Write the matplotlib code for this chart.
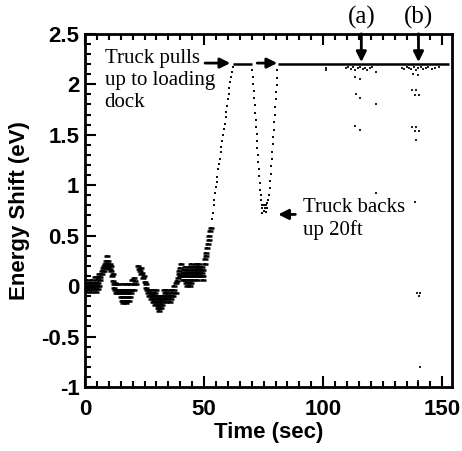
import matplotlib
matplotlib.use("Agg")
import matplotlib.pyplot as plt
from matplotlib.ticker import MultipleLocator

# noisy low-energy part before the truck moves (time s, energy eV)
early_t = [
    0.5, 1.0, 1.5, 2.0, 2.5, 3.0, 3.5, 4.0, 5.0, 6.0,
    0.5, 1.5, 2.5, 3.5, 4.5, 5.5,
    0.5, 1.0, 2.0, 3.0, 4.0, 5.5,
    1.0, 3.0, 5.0, 6.5,
    1.0, 2.5, 4.5,
    4.0, 5.5, 6.5,
    6.0, 7.0,
    7.2, 7.5, 7.8, 8.0, 8.3, 8.5, 8.8, 9.0, 9.2, 9.4, 9.6, 9.8, 10.0, 10.3, 10.5, 10.8, 11.0,
    11.3, 11.6, 11.8, 12.0, 12.3, 12.6,
    13.0, 14.0, 16.0, 17.5, 19.0, 20.5, 21.5,
    12.5, 13.5, 14.5, 15.5, 16.5, 17.5, 18.5, 19.5, 20.5,
    13.0, 14.0, 15.0, 16.0, 17.0, 18.0, 19.5,
    15.0, 16.0, 17.0, 18.0, 19.0,
    15.5, 16.5, 17.5, 18.5,
    16.0, 17.0,
    19.8, 20.5, 21.0,
    22.3, 22.6, 23.0, 23.3, 23.6, 24.0, 24.4, 24.8, 25.2, 25.5, 25.8,
    26.0, 27.0, 28.5, 30.0, 33.0, 34.5, 36.0, 37.5,
    26.5, 27.5, 28.5, 29.5, 33.5, 35.0, 36.5, 38.0,
    27.0, 28.0, 29.0, 30.0, 31.0, 32.0, 33.0, 34.0, 35.0, 36.0, 37.0,
    27.5, 28.5, 29.5, 30.5, 31.5, 32.5, 33.5, 34.5, 36.0,
    28.5, 29.5, 30.5, 31.5, 32.5, 34.0, 35.5,
    29.5, 30.5, 31.5, 32.5,
    30.5, 31.0, 32.0,
    31.0,
    37.5, 38.0, 38.5, 39.0, 39.3, 39.6, 40.0, 40.3, 40.0,
    40.5, 41.5, 42.5, 43.5, 44.5, 45.5, 46.5, 47.5, 48.5, 49.5,
    41.0, 42.0, 43.0, 44.0, 45.0, 46.0, 47.0, 48.0, 49.0,
    41.5, 43.0, 44.0, 45.5, 46.5, 47.5, 48.5, 49.5,
    42.0, 43.5, 45.0, 46.0, 47.0, 48.0, 49.0,
    44.5, 46.5, 48.0,
    41.0, 42.0, 43.0, 44.0, 45.5, 47.0, 49.5,
    42.5, 43.5, 44.5,
    43.0, 44.0,
    50.2, 50.5, 50.8, 51.0, 51.3, 51.6, 51.9, 52.2, 52.5, 52.8,
]
early_e = [
    0.00, 0.00, 0.00, 0.00, 0.00, 0.00, 0.00, 0.00, 0.00, 0.00,
    0.03, 0.03, 0.03, 0.03, 0.03, 0.03,
    -0.03, -0.03, -0.03, -0.03, -0.03, -0.03,
    0.06, 0.06, 0.06, 0.06,
    -0.06, -0.06, -0.06,
    0.09, 0.09, 0.09,
    0.12, 0.12,
    0.15, 0.18, 0.20, 0.15, 0.22, 0.18, 0.25, 0.20, 0.30, 0.22, 0.18, 0.25, 0.20, 0.22, 0.17, 0.20, 0.15,
    0.10, 0.05, 0.12, 0.02, -0.02, 0.03,
    0.02, 0.02, 0.02, 0.02, 0.02, 0.02, 0.02,
    -0.04, -0.04, -0.04, -0.04, -0.04, -0.04, -0.04, -0.04, -0.04,
    -0.07, -0.07, -0.07, -0.07, -0.07, -0.07, -0.07,
    -0.11, -0.11, -0.11, -0.11, -0.11,
    -0.15, -0.15, -0.15, -0.15,
    -0.17, -0.17,
    0.06, 0.08, 0.05,
    0.20, 0.17, 0.15, 0.18, 0.12, 0.13, 0.08, 0.10, 0.04, 0.02, -0.02,
    -0.04, -0.04, -0.04, -0.04, -0.04, -0.04, -0.04, -0.04,
    -0.07, -0.07, -0.07, -0.07, -0.07, -0.07, -0.07, -0.07,
    -0.10, -0.10, -0.10, -0.10, -0.10, -0.10, -0.10, -0.10, -0.10, -0.10, -0.10,
    -0.13, -0.13, -0.13, -0.13, -0.13, -0.13, -0.13, -0.13, -0.13,
    -0.16, -0.16, -0.16, -0.16, -0.16, -0.16, -0.16,
    -0.19, -0.19, -0.19, -0.19,
    -0.22, -0.22, -0.22,
    -0.25,
    0.00, 0.03, 0.05, 0.08, 0.12, 0.15, 0.18, 0.22, 0.10,
    0.10, 0.10, 0.10, 0.10, 0.10, 0.10, 0.10, 0.10, 0.10, 0.10,
    0.13, 0.13, 0.13, 0.13, 0.13, 0.13, 0.13, 0.13, 0.13,
    0.16, 0.16, 0.16, 0.16, 0.16, 0.16, 0.16, 0.16,
    0.19, 0.19, 0.19, 0.19, 0.19, 0.19, 0.19,
    0.22, 0.22, 0.22,
    0.06, 0.06, 0.06, 0.06, 0.06, 0.06, 0.06,
    0.03, 0.03, 0.03,
    0.00, 0.00,
    0.22, 0.27, 0.30, 0.33, 0.38, 0.42, 0.46, 0.50, 0.55, 0.58,
]

# truck pulling up, backing up 20 ft, pulling up again
ramp_t = [
    53.2, 53.6, 54.0, 54.3, 54.6, 55.0, 55.3, 55.6, 56.0, 56.3, 56.6, 57.0, 57.3, 57.6,
    58.0, 58.3, 58.6, 59.0, 59.3, 59.6, 60.0, 60.3, 60.6, 61.0, 61.3, 61.6, 62.0,
    70.2, 70.4, 70.6, 70.8, 71.0, 71.2, 71.4, 71.6, 71.8, 72.0, 72.2, 72.4, 72.6, 72.8,
    73.0, 73.2, 73.4, 73.6, 73.8,
    74.0, 74.5, 75.0, 75.5, 76.0, 76.5, 74.5, 75.5, 76.5, 75.0, 76.0, 74.2, 77.0, 77.3,
    77.6, 77.8, 78.0, 78.2, 78.4, 78.6, 78.8, 79.0, 79.2, 79.4, 79.6, 79.8, 80.0, 80.2,
    80.4, 80.6, 80.8,
]
ramp_e = [
    0.66, 0.72, 0.80, 0.85, 0.92, 0.98, 1.03, 1.08, 1.16, 1.21, 1.26, 1.33, 1.38, 1.44,
    1.50, 1.56, 1.61, 1.68, 1.73, 1.78, 1.85, 1.90, 1.96, 2.02, 2.07, 2.12, 2.17,
    2.14, 2.07, 2.00, 1.93, 1.86, 1.79, 1.72, 1.65, 1.58, 1.51, 1.44, 1.37, 1.30, 1.23,
    1.16, 1.09, 1.02, 0.95, 0.90,
    0.85, 0.80, 0.80, 0.80, 0.80, 0.82, 0.77, 0.77, 0.77, 0.74, 0.73, 0.72, 0.85, 0.90,
    0.97, 1.04, 1.11, 1.19, 1.26, 1.33, 1.41, 1.48, 1.55, 1.63, 1.70, 1.77, 1.85, 1.92,
    1.99, 2.06, 2.14,
]

# saturated level at the dock
sat_level = 2.2
sat_start = [62.2, 81.0]
sat_end = [70.0, 153.0]

# scattered readings around events (a) and (b)
late_t = [
    101.0, 101.3,
    109.5, 110.5, 111.5, 112.5, 113.5, 114.5, 115.5, 116.5, 117.5, 118.5, 119.5, 120.5, 122.0,
    133.0, 134.0, 135.0, 136.0, 137.0, 138.0, 139.0, 140.0, 141.0, 142.0, 143.0, 144.0,
    145.5, 147.0, 148.5,
    113.5, 115.5, 113.8, 115.3, 122.0, 113.4, 115.6, 122.0,
    137.6, 139.6, 137.4, 139.1, 138.4, 140.3, 137.4, 139.1, 138.4, 140.3, 139.1,
    138.5, 139.5, 140.8, 140.1, 140.8, 139.9,
]
late_e = [
    2.16, 2.14,
    2.16, 2.17, 2.15, 2.17, 2.14, 2.16, 2.17, 2.15, 2.16, 2.14, 2.16, 2.17, 2.12,
    2.16, 2.15, 2.17, 2.16, 2.15, 2.17, 2.14, 2.16, 2.17, 2.15, 2.16, 2.17,
    2.15, 2.16, 2.17,
    2.07, 2.05, 1.90, 1.86, 1.80, 1.59, 1.55, 0.92,
    2.10, 2.09, 1.94, 1.94, 1.89, 1.89, 1.58, 1.58, 1.54, 1.54, 1.45,
    0.83, -0.07, -0.07, -0.10, -0.80, -0.94,
]

event_labels = ["(a)", "(b)"]
event_times = [116.0, 140.0]

sans = ["Liberation Sans", "DejaVu Sans"]
serif = ["Liberation Serif", "DejaVu Serif"]

fig = plt.figure(figsize=(4.62, 4.51), dpi=100)
ax = fig.add_axes([0.184, 0.142, 0.794, 0.783])

ax.plot(early_t, early_e, linestyle="none", marker="_", markersize=4,
        markeredgewidth=1.8, color="black")
ax.plot(early_t, early_e, linestyle="none", marker="s", markersize=1.6,
        markeredgewidth=0, color="black")
ax.plot(ramp_t, ramp_e, linestyle="none", marker="s", markersize=2.1,
        markeredgewidth=0, color="#111111")
ax.hlines([sat_level] * len(sat_start), sat_start, sat_end, color="black", lw=1.8)
ax.plot(late_t, late_e, linestyle="none", marker="s", markersize=1.8,
        markeredgewidth=0, color="#222222")

ax.set_xlim(0, 154)
ax.set_ylim(-1, 2.5)
ax.xaxis.set_major_locator(MultipleLocator(50))
ax.xaxis.set_minor_locator(MultipleLocator(5))
ax.yaxis.set_minor_locator(MultipleLocator(0.1))
ax.set_yticks([-1, -0.5, 0, 0.5, 1, 1.5, 2, 2.5])
ax.set_yticklabels(["-1", "-0.5", "0", "0.5", "1", "1.5", "2", "2.5"])

ax.tick_params(which="both", direction="in", top=True, right=False, width=1.5)
ax.tick_params(which="major", length=8)
ax.tick_params(which="minor", length=4)
ax.tick_params(axis="x", pad=9)
ax.tick_params(axis="y", pad=4)
for lab in ax.get_xticklabels() + ax.get_yticklabels():
    lab.set_fontfamily(sans)
    lab.set_fontweight("bold")
    lab.set_fontsize(16)
for sp in ax.spines.values():
    sp.set_linewidth(2)

ax.set_xlabel("Time (sec)", fontsize=16, fontweight="bold", family=sans, va="center")
ax.set_ylabel("Energy Shift (eV)", fontsize=16, fontweight="bold", family=sans, va="center")
ax.xaxis.set_label_coords(0.5, -0.128)
ax.yaxis.set_label_coords(-0.178, 0.5)

arrow = dict(arrowstyle="-|>", lw=2, color="black", mutation_scale=15,
             shrinkA=0, shrinkB=0)

ax.text(8.2, 2.04, "Truck pulls\nup to loading\ndock", family=serif, fontsize=15,
        va="center", ha="left", linespacing=1.2)
ax.annotate("", xy=(61.0, 2.21), xytext=(50.4, 2.21), arrowprops=arrow)
ax.annotate("", xy=(80.7, 2.21), xytext=(72.3, 2.21), arrowprops=arrow)

ax.text(91.6, 0.665, "Truck backs\nup 20ft", family=serif, fontsize=15,
        va="center", ha="left", linespacing=1.25)
ax.annotate("", xy=(81.1, 0.71), xytext=(88.3, 0.71), arrowprops=arrow)

for lab, t in zip(event_labels, event_times):
    ax.text(t, 2.66, lab, family=serif, fontsize=18, ha="center", va="center",
            clip_on=False)
    ax.annotate("", xy=(t, 2.22), xytext=(t, 2.5), arrowprops=arrow,
                annotation_clip=False)

fig.savefig("out.png", dpi=100)
